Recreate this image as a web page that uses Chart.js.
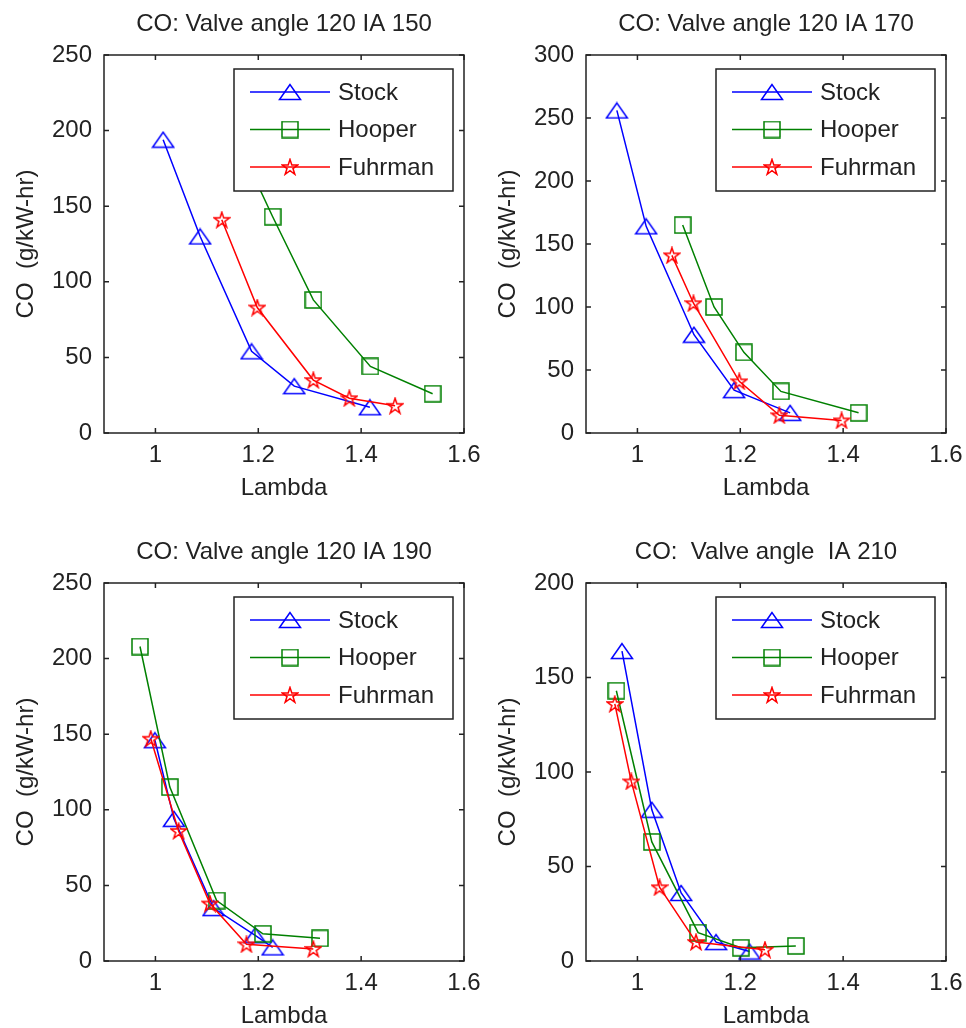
<!DOCTYPE html>
<html lang="en">
<head>
<meta charset="UTF-8">
<title>CO vs Lambda</title>
<script src="https://cdn.jsdelivr.net/npm/chart.js"></script>
<style>
  body { margin: 0; background: #fff; overflow: hidden; }
  canvas { position: absolute; }
</style>
</head>
<body>
<canvas id="c150"></canvas>
<canvas id="c170"></canvas>
<canvas id="c190"></canvas>
<canvas id="c210"></canvas>

<script>
// ---- data ----
const xTicks = [1, 1.2, 1.4, 1.6];
const yTicks250 = [0, 50, 100, 150, 200, 250];
const yTicks300 = [0, 50, 100, 150, 200, 250, 300];
const yTicks200 = [0, 50, 100, 150, 200];
const seriesNames = ['Stock', 'Hooper', 'Fuhrman'];
const titles = ['CO: Valve angle 120 IA 150', 'CO: Valve angle 120 IA 170',
                'CO: Valve angle 120 IA 190', 'CO:  Valve angle  IA 210'];

// IA 150
const lam150Stock = [1.015, 1.087, 1.187, 1.270, 1.417];
const co150Stock  = [194, 130, 54, 31, 17];
const lam150Hooper = [1.18, 1.228, 1.307, 1.418, 1.539];
const co150Hooper  = [178, 143, 88, 44, 26];
const lam150Fuhrman = [1.129, 1.198, 1.307, 1.377, 1.466];
const co150Fuhrman  = [141, 83, 35, 23, 18];

// IA 170
const lam170Stock = [0.960, 1.017, 1.110, 1.188, 1.297];
const co170Stock  = [256, 164, 78, 34, 16];
const lam170Hooper = [1.088, 1.149, 1.207, 1.279, 1.430];
const co170Hooper  = [165, 100, 64, 33, 16];
const lam170Fuhrman = [1.067, 1.109, 1.198, 1.276, 1.397];
const co170Fuhrman  = [141, 103, 41, 14, 10];

// IA 190
const lam190Stock = [0.999, 1.036, 1.113, 1.194, 1.228];
const co190Stock  = [146, 94, 35, 17, 9];
const lam190Hooper = [0.970, 1.028, 1.119, 1.209, 1.320];
const co190Hooper  = [208, 115, 40, 18, 15];
const lam190Fuhrman = [0.991, 1.045, 1.106, 1.177, 1.307];
const co190Fuhrman  = [147, 86, 38, 11, 8];

// IA 210
const lam210Stock = [0.970, 1.028, 1.085, 1.153, 1.218];
const co210Stock  = [164, 80, 36, 10, 5];
const lam210Hooper = [0.959, 1.028, 1.118, 1.201, 1.308];
const co210Hooper  = [143, 63, 15, 7, 8];
const lam210Fuhrman = [0.956, 0.988, 1.043, 1.114, 1.248];
const co210Fuhrman  = [136, 95, 39, 10, 6];

// ---- look ----
const fontFamily = '"Liberation Sans", Arial, sans-serif';
const textColor = '#222';
const colors = ['#0000ff', '#008000', '#ff0000'];
const AXIS_W = 104, TITLE_H = 55, XAXIS_H = 70, PAD_R = 34;
const PLOT_W = 360, PLOT_H = 378;

function markerImage(kind, color) {
    const c = document.createElement('canvas');
    const g = c.getContext('2d');
    if (kind === 'triangle') {
        c.width = 24; c.height = 18;
    } else {
        c.width = 18; c.height = 18;
    }
    g.strokeStyle = color;
    g.lineWidth = 1.5;
    g.beginPath();
    if (kind === 'triangle') {
        g.moveTo(12, 1.5); g.lineTo(1.5, 16.5); g.lineTo(22.5, 16.5); g.closePath();
    } else if (kind === 'square') {
        g.rect(1, 1, 16, 16);
    } else {
        const R = 8.2, r = R * 0.382;
        for (let i = 0; i < 10; i++) {
            const ang = -Math.PI / 2 + i * Math.PI / 5;
            const rad = i % 2 === 0 ? R : r;
            const px = 9 + rad * Math.cos(ang), py = 9.6 + rad * Math.sin(ang);
            if (i === 0) g.moveTo(px, py); else g.lineTo(px, py);
        }
        g.closePath();
    }
    g.stroke();
    return c;
}
const markers = [markerImage('triangle', colors[0]), markerImage('square', colors[1]), markerImage('star', colors[2])];

// box, inward ticks and matlab style legend
const frameAndLegend = {
    id: 'frameAndLegend',
    afterDraw(chart) {
        const ctx = chart.ctx, a = chart.chartArea;
        const xs = chart.scales.x, ys = chart.scales.y;
        ctx.save();
        ctx.strokeStyle = textColor;
        ctx.lineWidth = 1.5;
        ctx.strokeRect(a.left, a.top, a.right - a.left, a.bottom - a.top);
        ctx.beginPath();
        xs.ticks.forEach(t => {
            const p = xs.getPixelForValue(t.value);
            ctx.moveTo(p, a.bottom); ctx.lineTo(p, a.bottom - 5);
            ctx.moveTo(p, a.top); ctx.lineTo(p, a.top + 5);
        });
        ys.ticks.forEach(t => {
            const p = ys.getPixelForValue(t.value);
            ctx.moveTo(a.left, p); ctx.lineTo(a.left + 5, p);
            ctx.moveTo(a.right, p); ctx.lineTo(a.right - 5, p);
        });
        ctx.stroke();

        const bw = 219, bh = 122;
        const bx = a.right - 11 - bw, by = a.top + 14;
        ctx.fillStyle = '#fff';
        ctx.fillRect(bx, by, bw, bh);
        ctx.strokeRect(bx, by, bw, bh);
        ctx.font = '24px ' + fontFamily;
        ctx.textBaseline = 'middle';
        chart.data.datasets.forEach((ds, i) => {
            const ry = by + 23 + i * 37.5;
            ctx.strokeStyle = ds.borderColor;
            ctx.beginPath();
            ctx.moveTo(bx + 16, ry); ctx.lineTo(bx + 96, ry);
            ctx.stroke();
            const m = ds.pointStyle;
            ctx.drawImage(m, bx + 56 - m.width / 2, ry - m.height / 2);
            ctx.fillStyle = textColor;
            ctx.fillText(ds.label, bx + 104, ry + 1);
        });
        ctx.restore();
    }
};

function makePanel(id, left, top, title, yMax, yTicks, lams, cos) {
    const cv = document.getElementById(id);
    cv.width = AXIS_W + PLOT_W + PAD_R;
    cv.height = TITLE_H + PLOT_H + XAXIS_H;
    cv.style.left = (left - AXIS_W) + 'px';
    cv.style.top = (top - TITLE_H) + 'px';
    const font = { family: fontFamily, size: 24, weight: 'normal' };
    return new Chart(cv.getContext('2d'), {
        type: 'scatter',
        data: {
            datasets: seriesNames.map((name, i) => ({
                label: name,
                data: lams[i].map((x, k) => ({ x: x, y: cos[i][k] })),
                showLine: true,
                borderColor: colors[i],
                backgroundColor: colors[i],
                borderWidth: 1.5,
                pointStyle: markers[i],
                pointRadius: 9,
                tension: 0,
                order: 3 - i
            }))
        },
        options: {
            responsive: false,
            animation: false,
            events: [],
            layout: { padding: { right: PAD_R } },
            plugins: {
                legend: { display: false },
                tooltip: { enabled: false },
                title: {
                    display: true, text: title, fullSize: false,
                    font: font, color: textColor,
                    padding: { top: 10, bottom: 16.2 }
                }
            },
            scales: {
                x: {
                    type: 'linear', min: 0.9, max: 1.6,
                    grid: { display: false, drawTicks: false },
                    border: { display: false },
                    afterBuildTicks: s => { s.ticks = xTicks.map(v => ({ value: v })); },
                    afterFit: s => { s.height = XAXIS_H; },
                    ticks: { font: font, color: textColor, padding: 8, maxRotation: 0, callback: v => String(v) },
                    title: { display: true, text: 'Lambda', font: font, color: textColor, padding: { top: 0, bottom: 0 } }
                },
                y: {
                    type: 'linear', min: 0, max: yMax,
                    grid: { display: false, drawTicks: false },
                    border: { display: false },
                    afterBuildTicks: s => { s.ticks = yTicks.map(v => ({ value: v })); },
                    afterFit: s => { s.width = AXIS_W; },
                    ticks: { font: font, color: textColor, padding: 12, callback: v => String(v) },
                    title: { display: true, text: 'CO  (g/kW-hr)', font: font, color: textColor, padding: { top: 12, bottom: 0 } }
                }
            }
        },
        plugins: [frameAndLegend]
    });
}

makePanel('c150', 104, 55, titles[0], 250, yTicks250,
    [lam150Stock, lam150Hooper, lam150Fuhrman], [co150Stock, co150Hooper, co150Fuhrman]);
makePanel('c170', 586, 55, titles[1], 300, yTicks300,
    [lam170Stock, lam170Hooper, lam170Fuhrman], [co170Stock, co170Hooper, co170Fuhrman]);
makePanel('c190', 104, 583, titles[2], 250, yTicks250,
    [lam190Stock, lam190Hooper, lam190Fuhrman], [co190Stock, co190Hooper, co190Fuhrman]);
makePanel('c210', 586, 583, titles[3], 200, yTicks200,
    [lam210Stock, lam210Hooper, lam210Fuhrman], [co210Stock, co210Hooper, co210Fuhrman]);
</script>
</body>
</html>
